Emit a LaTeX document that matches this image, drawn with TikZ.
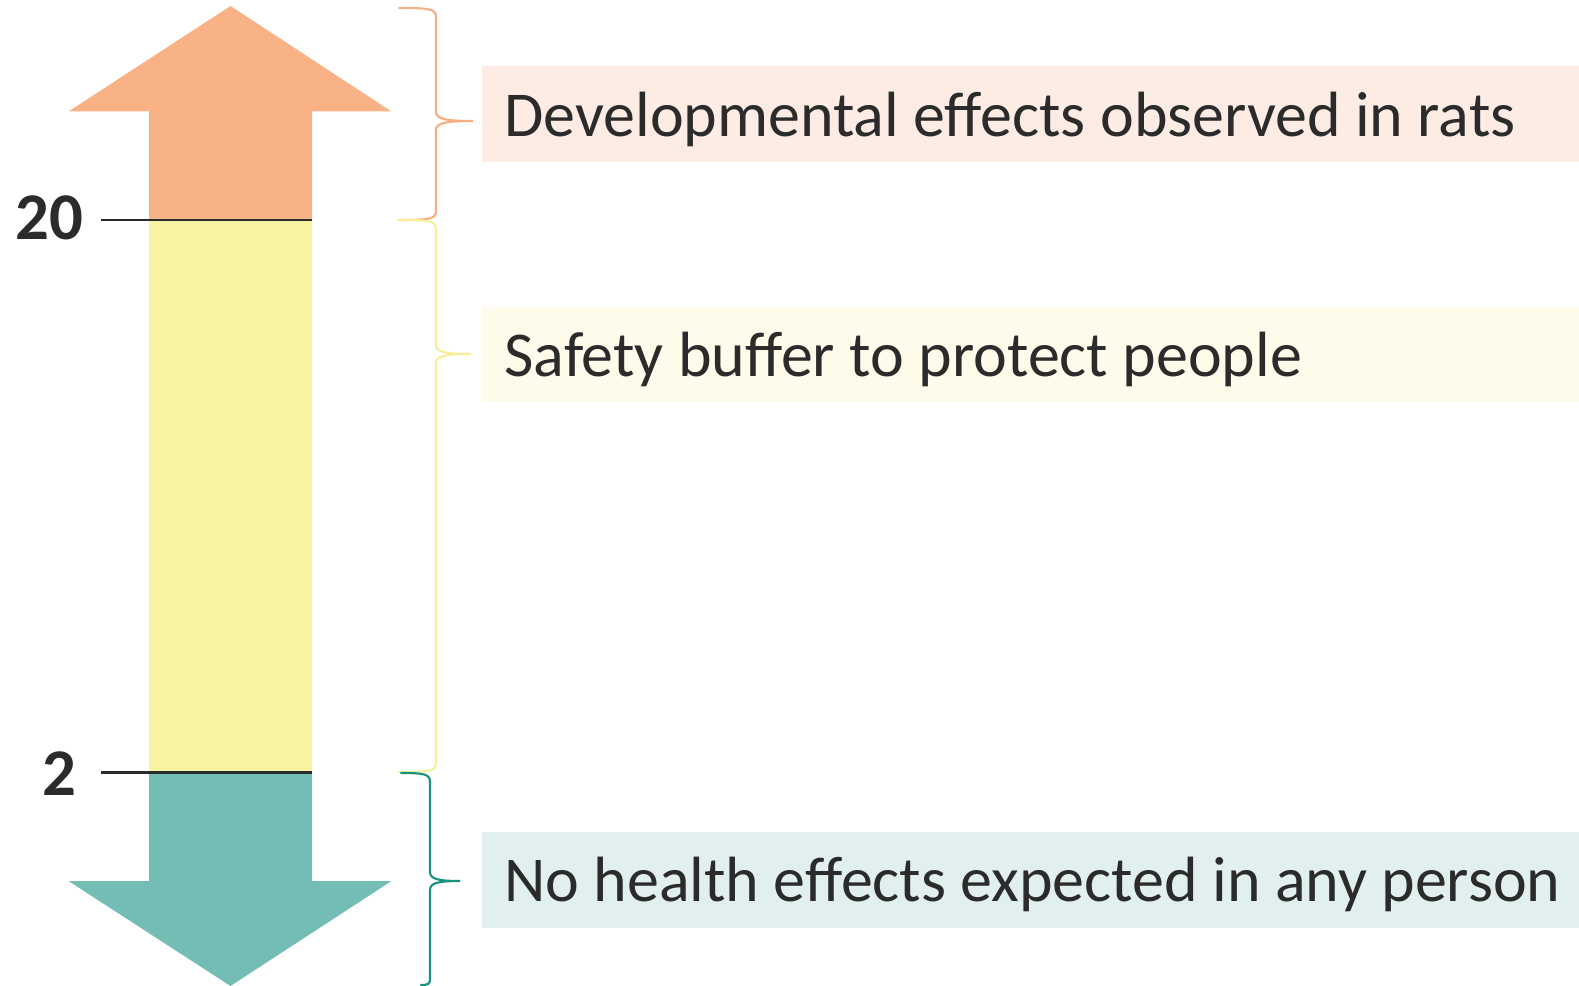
\documentclass[tikz,border=0pt]{standalone}
\usepackage{fontspec}
\setmainfont{Carlito}
\usetikzlibrary{positioning}
\definecolor{peach}{HTML}{F9B186}
\definecolor{peachline}{HTML}{F8AE82}
\definecolor{peachlight}{HTML}{FCECE4}
\definecolor{lemon}{HTML}{F8F3A0}
\definecolor{lemonline}{HTML}{F8EF98}
\definecolor{lemonlight}{HTML}{FEFBEB}
\definecolor{teal}{HTML}{73BDB4}
\definecolor{tealline}{HTML}{16927F}
\definecolor{teallight}{HTML}{E1EFEE}
\definecolor{ink}{HTML}{2B2B2B}

\begin{document}
\begin{tikzpicture}[
    x=0.02cm, y=-0.02cm,
    bracket/.style={line width=1.2pt, line cap=round},
    effect/.style={anchor=base west, inner sep=0pt, font=\fontsize{36.4}{42}\selectfont, text=ink},
    dose/.style={font=\bfseries\fontsize{38}{44}\selectfont, text=ink},
    tick/.style={line width=1.2pt, ink}
]
    \useasboundingbox (0,0) rectangle (1579,986);

    % scale: up arrow, band, down arrow
    \fill[peach] (230.5,6) -- (391.5,111.5) -- (312,111.5) -- (312,220) -- (149,220) -- (149,111.5) -- (68.5,111.5) -- cycle;
    \fill[lemon] (149,220) rectangle (312,772.5);
    \fill[teal] (149,772.5) -- (312,772.5) -- (312,881) -- (391.5,881) -- (230.5,986) -- (68.5,881) -- (149,881) -- cycle;

    \coordinate (t20) at (101,220);
    \coordinate (t2) at (101,772.5);
    \draw[tick] (t20) -- (312,220);
    \draw[tick] (t2) -- (312,772.5);
    \node[dose] (n20) at (49,218) {20};
    \node[dose] (n2) at (59,774) {2};

    % braces
    \draw[bracket, peachline] (399,8) .. controls (430,8) and (436,9) .. (436,17) -- (436,112)
        .. controls (436,119) and (446,121) .. (473,121) .. controls (446,121) and (436,123) .. (436,130)
        -- (436,211) .. controls (436,219) and (430,220) .. (399,220);
    \draw[bracket, lemonline] (399,220) .. controls (430,220) and (436,221) .. (436,229) -- (436,345)
        .. controls (436,352) and (446,354) .. (471,354) .. controls (446,354) and (436,356) .. (436,363)
        -- (436,763) .. controls (436,771) and (430,772) .. (399,772);
    \draw[bracket, tealline] (401,773) .. controls (424,773) and (430,774) .. (430,782) -- (430,872)
        .. controls (430,879) and (438,881) .. (460,881) .. controls (438,881) and (430,883) .. (430,890)
        -- (430,979) .. controls (430,984) and (428,985) .. (421,985);

    % label backgrounds
    \fill[peachlight] (482,66) rectangle (1579,162);
    \fill[lemonlight] (482,307) rectangle (1579,402);
    \fill[teallight] (482,832) rectangle (1579,928);

    % labels
    \node[effect] (rats) at (504,137) {Developmental effects observed in rats};
    \node[effect] (buffer) at (504,377) {Safety buffer to protect people};
    \node[effect] (none) at (504,901) {No health effects expected in any person};
\end{tikzpicture}
\end{document}
